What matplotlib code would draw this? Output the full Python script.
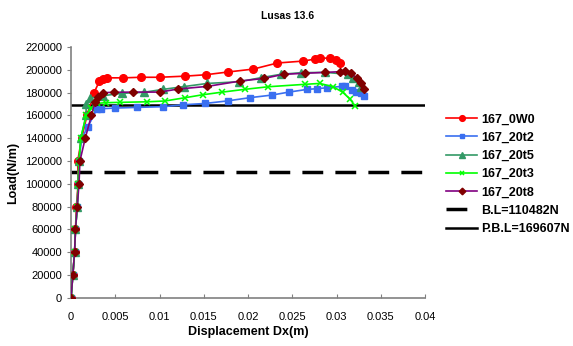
import matplotlib
matplotlib.use("Agg")
import matplotlib.pyplot as plt

plt.rcParams['font.family'] = ['Liberation Sans', 'DejaVu Sans']

# data
x_0w0 = [0, 0.0002, 0.0004, 0.0005, 0.0006, 0.0008, 0.00075, 0.0012, 0.0018, 0.0026, 0.0032,
         0.0036, 0.0041, 0.0059, 0.0079, 0.0100, 0.0129, 0.0152, 0.0177, 0.0206, 0.0233,
         0.0262, 0.0276, 0.0281, 0.0292, 0.0299, 0.0304]
y_0w0 = [0, 20000, 40000, 60000, 80000, 100000, 120000, 140000, 160000, 180000, 190000,
         192000, 193000, 193000, 193500, 193500, 194500, 195700, 198100, 200700, 206000,
         207700, 209500, 210300, 210300, 208600, 206000]

x_20t2 = [0, 0.0002, 0.0004, 0.0005, 0.0007, 0.0008, 0.0009, 0.0012, 0.0019, 0.0029, 0.0034,
          0.0050, 0.0075, 0.0104, 0.0127, 0.0151, 0.0177, 0.0202, 0.0227, 0.0246, 0.0267,
          0.0278, 0.0289, 0.0306, 0.0310, 0.0317, 0.0322, 0.0327, 0.0331]
y_20t2 = [0, 20000, 40000, 60000, 80000, 100000, 120000, 140000, 150000, 165400, 165900,
          166500, 167100, 167700, 169400, 170500, 172800, 175600, 177900, 180500, 182900,
          183500, 184300, 185500, 185800, 182300, 180500, 179400, 176800]

x_20t5 = [0, 0.0002, 0.0004, 0.0005, 0.0007, 0.0008, 0.0009, 0.0011, 0.0017, 0.0017, 0.0021,
          0.0036, 0.0057, 0.0082, 0.0104, 0.0128, 0.0154, 0.0190, 0.0215, 0.0237, 0.0260,
          0.0287, 0.0313, 0.0319, 0.0325, 0.0328]
y_20t5 = [0, 20000, 40000, 60000, 80000, 100000, 120000, 140000, 160000, 170000, 175000,
          177300, 179400, 180300, 182900, 185400, 188100, 189600, 193200, 196100, 197500,
          197800, 196100, 192500, 189600, 185200]

x_20t3 = [0, 0.0002, 0.0004, 0.0005, 0.0007, 0.0008, 0.0009, 0.0011, 0.0017, 0.0023, 0.0029,
          0.0039, 0.0055, 0.0086, 0.0106, 0.0129, 0.0149, 0.0171, 0.0196, 0.0223, 0.0264,
          0.0281, 0.0296, 0.0307, 0.0315, 0.0321]
y_20t3 = [0, 20000, 40000, 60000, 80000, 100000, 120000, 140000, 160000, 166300, 170600,
          171200, 171500, 172000, 172700, 175600, 178200, 180500, 182900, 185200, 187300,
          188100, 185200, 180300, 174400, 168300]

x_20t8 = [0, 0.0002, 0.0004, 0.0005, 0.0007, 0.0009, 0.0010, 0.0016, 0.0023, 0.0027, 0.0031,
          0.0036, 0.0048, 0.0070, 0.0100, 0.0121, 0.0154, 0.0191, 0.0218, 0.0240, 0.0264,
          0.0287, 0.0304, 0.0310, 0.0316, 0.0323, 0.0327, 0.0331]
y_20t8 = [0, 20000, 40000, 60000, 80000, 100000, 120000, 140000, 160000, 172000, 176500,
          180000, 180300, 180500, 180500, 183200, 185500, 190200, 192500, 196100, 197000,
          197800, 198400, 199300, 197000, 192500, 188100, 182900]

bl = 110482
pbl = 169607

fig = plt.figure(figsize=(5.73, 3.46), dpi=100)
ax = fig.add_axes([0.124, 0.139, 0.618, 0.725])

ax.plot(x_0w0, y_0w0, color='#FF0000', marker='o', ms=5.5, lw=1.2, label='167_0W0', zorder=3)
ax.plot(x_20t2, y_20t2, color='#3A6FF0', marker='s', ms=4.5, lw=1.2, label='167_20t2', zorder=3)
ax.plot(x_20t5, y_20t5, color='#339966', marker='^', ms=5.5, lw=1.2, label='167_20t5', zorder=3)
ax.plot(x_20t3, y_20t3, color='#00FF00', marker='x', ms=4.5, mew=1.1, lw=1.2, label='167_20t3', zorder=3)
ax.plot(x_20t8, y_20t8, color='#800080', marker='D', ms=4.5, mfc='#800000', mec='#800000',
        lw=1.2, label='167_20t8', zorder=3)
ax.axhline(bl, color='black', lw=2.5, ls=(0, (6, 3.5)), label='B.L=110482N', zorder=2)
ax.axhline(pbl, color='black', lw=1.8, label='P.B.L=169607N', zorder=2)

ax.set_xlim(0, 0.04)
ax.set_ylim(0, 220000)
ax.set_xticks([0, 0.005, 0.01, 0.015, 0.02, 0.025, 0.03, 0.035, 0.04])
ax.set_xticklabels(['0', '0.005', '0.01', '0.015', '0.02', '0.025', '0.03', '0.035', '0.04'])
ax.set_yticks(range(0, 220001, 20000))
ax.tick_params(axis='y', direction='out', length=3, labelsize=8, color='#808080')
ax.tick_params(axis='x', direction='in', length=3, labelsize=8, color='#808080', pad=10)

for s in ['top', 'right']:
    ax.spines[s].set_visible(False)
for s in ['left', 'bottom']:
    ax.spines[s].set_color('#808080')
    ax.spines[s].set_linewidth(1.2)

ax.set_xlabel('Displacement Dx(m)', fontsize=9, fontweight='bold', labelpad=3)
ax.set_ylabel('Load(N/m)', fontsize=9, fontweight='bold')
fig.text(0.502, 0.955, 'Lusas 13.6', fontsize=7.5, fontweight='bold', ha='center', va='center')

leg = ax.legend(loc='upper left', bbox_to_anchor=(1.045, 0.755), frameon=False,
                prop={'size': 9, 'weight': 'bold'}, handlelength=2.5, handletextpad=0.3,
                labelspacing=0.5, borderaxespad=0, markerscale=0.75)

fig.savefig('out.png', dpi=100)
